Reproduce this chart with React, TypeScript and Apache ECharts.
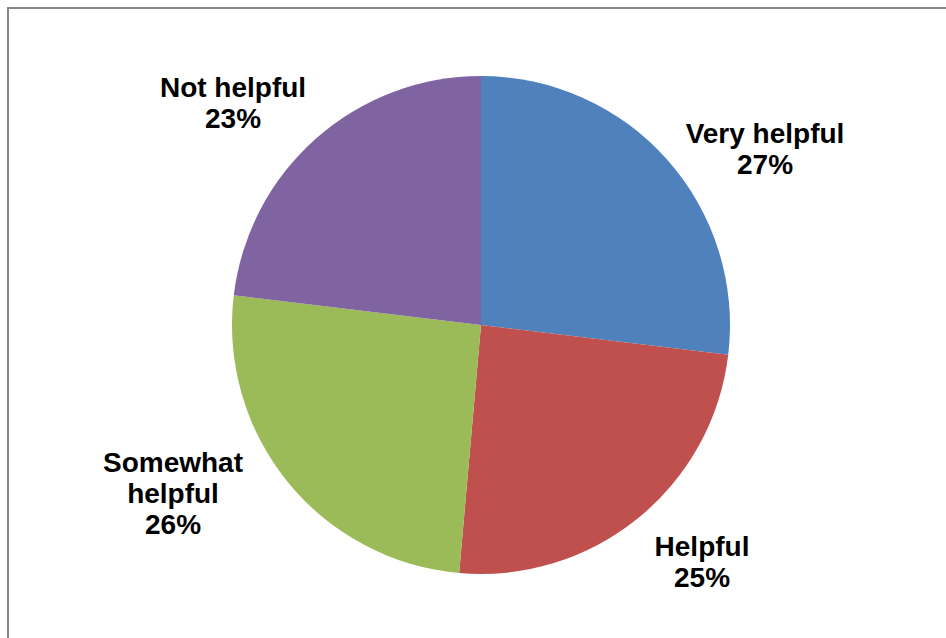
import React, { useEffect, useRef } from "react";
import * as echarts from "echarts";

const categories = ["Very helpful", "Helpful", "Somewhat helpful", "Not helpful"];
const shareValues = [26.9, 24.5, 25.5, 23.1];
const sliceColors = ["#4F81BD", "#C0504D", "#9BBB59", "#8064A2"];
const labelText = ["Very helpful", "Helpful", "Somewhat\nhelpful", "Not helpful"];
const labelCenters: [number, number][] = [
  [765, 149],
  [702, 562],
  [173, 493],
  [233, 103],
];

export default function App() {
  const ref = useRef<HTMLDivElement>(null);
  useEffect(() => {
    if (!ref.current) return;
    const chart = echarts.init(ref.current, undefined, { renderer: "svg" });
    chart.setOption({
      animation: false,
      backgroundColor: "#ffffff",
      graphic: [
        {
          type: "rect",
          shape: { x: 8, y: 8, width: 1000, height: 700 },
          style: { fill: "none", stroke: "#868686", lineWidth: 2 },
          silent: true,
        },
      ],
      series: [
        {
          type: "pie",
          center: [481, 325],
          radius: [0, 249],
          startAngle: 90,
          clockwise: true,
          avoidLabelOverlap: false,
          itemStyle: { borderWidth: 0 },
          label: {
            show: true,
            position: "outside",
            formatter: (p: any) => `${labelText[p.dataIndex]}\n${Math.round(p.value)}%`,
            fontFamily: "Liberation Sans, Arial, sans-serif",
            fontWeight: "bold",
            fontSize: 28,
            lineHeight: 31,
            color: "#000000",
            align: "center",
          },
          labelLine: { show: false },
          labelLayout: (params: any) => ({
            x: labelCenters[params.dataIndex][0],
            y: labelCenters[params.dataIndex][1],
            align: "center",
            verticalAlign: "middle",
          }),
          emphasis: { disabled: true },
          data: categories.map((c, i) => ({
            name: c,
            value: shareValues[i],
            itemStyle: { color: sliceColors[i] },
          })),
        },
      ],
    });
    return () => chart.dispose();
  }, []);
  return (
    <div
      ref={ref}
      style={{ position: "fixed", left: 0, top: 0, width: 946, height: 638 }}
    />
  );
}
